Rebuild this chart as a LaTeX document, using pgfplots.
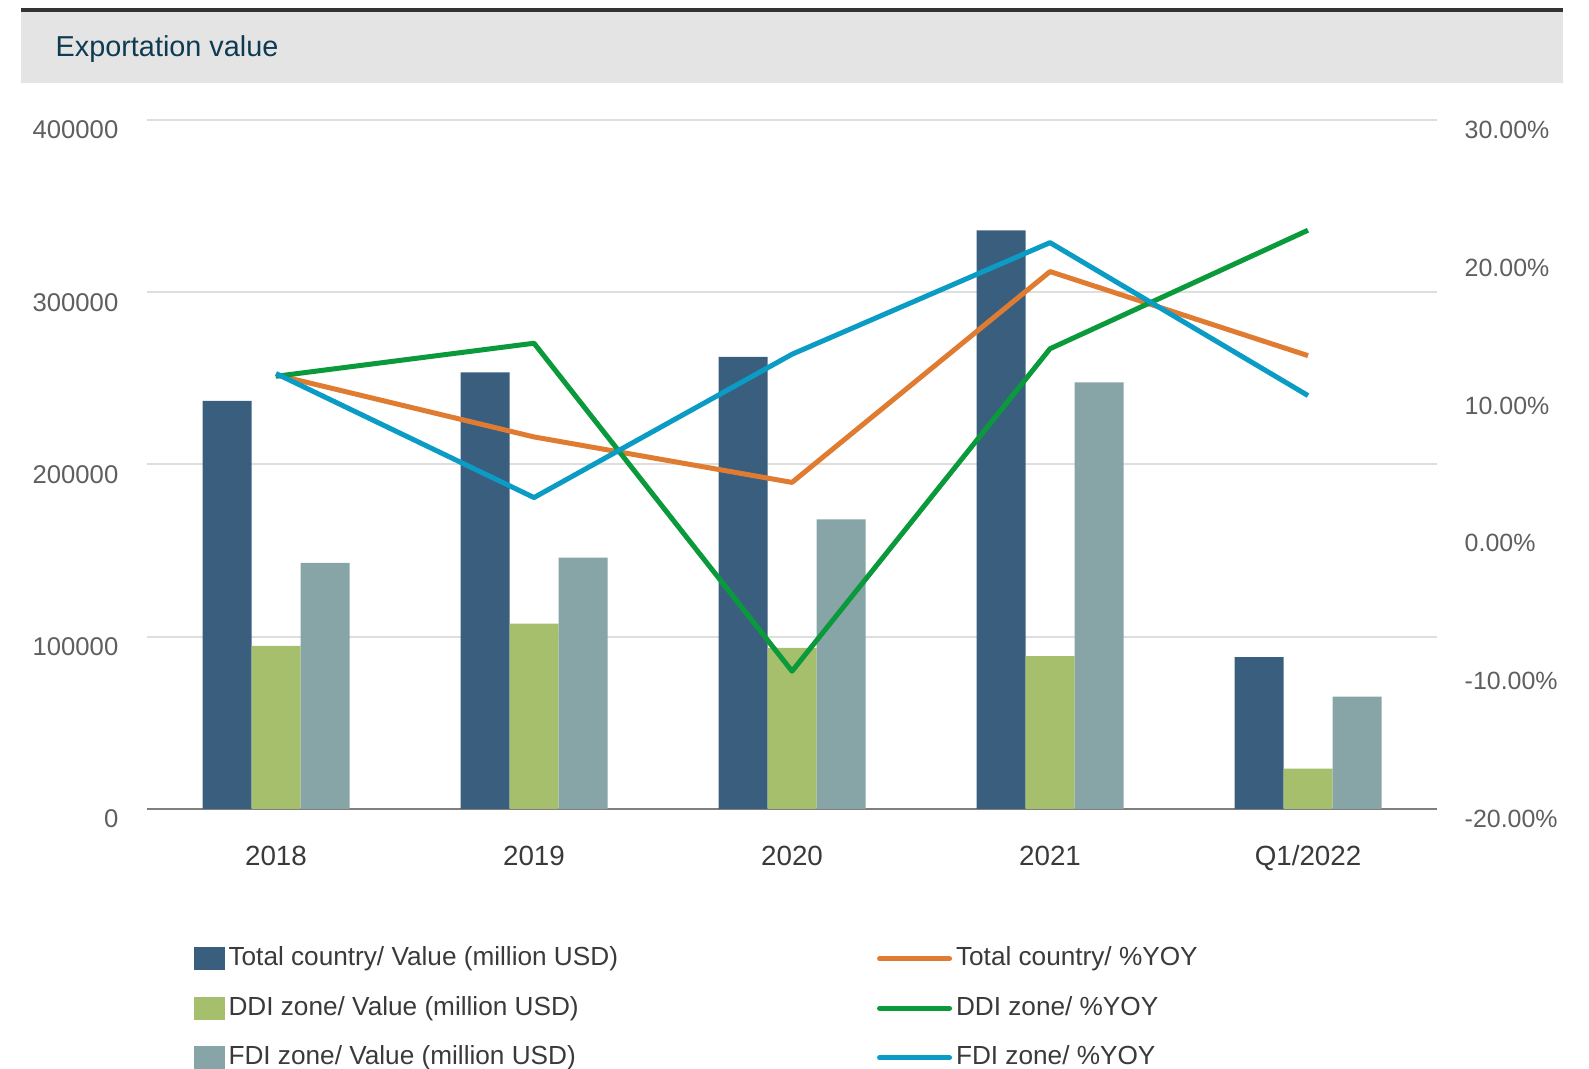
\documentclass[border=0pt]{standalone}
\usepackage{fontspec}
\setmainfont{Liberation Sans}
\usepackage{pgfplots}
\pgfplotsset{compat=1.18}
\usepackage{xcolor}

\definecolor{cTot}{HTML}{3A5E7E}
\definecolor{cDDI}{HTML}{A5BF6C}
\definecolor{cFDI}{HTML}{87A5A6}
\definecolor{lTot}{HTML}{E07C32}
\definecolor{lDDI}{HTML}{0B9A3B}
\definecolor{lFDI}{HTML}{0A9CC4}
\definecolor{hdr}{HTML}{E4E4E4}
\definecolor{ttl}{HTML}{0E3B52}
\definecolor{gridc}{HTML}{DEDEDE}
\definecolor{basec}{HTML}{7F7F7F}
\definecolor{tickc}{HTML}{5F5F5F}
\definecolor{txtc}{HTML}{3A3A3A}

\begin{document}
\begin{tikzpicture}
% page frame, 1 px = 0.01 cm
\useasboundingbox (0,0) rectangle (15.89,10.69);
\fill[hdr] (0.21,9.86) rectangle (15.63,10.59);
\draw[line width=0.04cm, draw=black!80] (0.21,10.59) -- (15.63,10.59);
\node[anchor=west, inner sep=0pt, text=ttl, font=\fontsize{8.2}{10}\selectfont] at (0.55,10.20) {Exportation value};

% bars, left axis
\begin{axis}[
    at={(1.47cm,2.60cm)}, anchor=south west,
    width=12.90cm, height=6.89cm, scale only axis,
    xmin=-0.5, xmax=4.5,
    ymin=0, ymax=400000,
    scaled y ticks=false,
    ybar=0pt, bar width=0.49cm,
    axis x line*=bottom, axis y line*=left,
    x axis line style={draw=basec, line width=0.02cm, -},
    y axis line style={draw=none},
    major tick length=0pt,
    xtick={0,1,2,3,4},
    xticklabels={2018,2019,2020,2021,Q1/2022},
    xticklabel style={inner sep=0pt, yshift=-0.36cm, text=txtc, font=\fontsize{7.9}{10}\selectfont},
    ytick={0,100000,200000,300000,400000},
    yticklabels={0,100000,200000,300000,400000},
    yticklabel style={inner sep=0pt, xshift=-0.28cm, yshift=-0.1cm, text=tickc, font=\fontsize{7.3}{10}\selectfont},
    ymajorgrids, grid style={draw=gridc, line width=0.02cm},
    clip=false,
]
\addplot[fill=cTot, draw=none] coordinates {(0,237000) (1,253500) (2,262400) (3,335900) (4,88200)};
\addplot[fill=cDDI, draw=none] coordinates {(0,94700) (1,107600) (2,93500) (3,88800) (4,23500)};
\addplot[fill=cFDI, draw=none] coordinates {(0,142900) (1,145900) (2,168200) (3,247600) (4,65300)};
\end{axis}

% lines, right axis
\begin{axis}[
    at={(1.47cm,2.60cm)}, anchor=south west,
    width=12.90cm, height=6.89cm, scale only axis,
    xmin=-0.5, xmax=4.5,
    ymin=-20, ymax=30,
    axis x line=none, axis y line*=right,
    y axis line style={draw=none},
    major tick length=0pt,
    ytick={-20,-10,0,10,20,30},
    yticklabels={-20.00\%,-10.00\%,0.00\%,10.00\%,20.00\%,30.00\%},
    yticklabel style={inner sep=0pt, xshift=0.27cm, yshift=-0.1cm, text=tickc, font=\fontsize{7.1}{10}\selectfont},
    clip=false,
    legend columns=2,
    legend cell align=left,
    legend style={at={(0.036,-0.196)}, anchor=north west, draw=none, fill=none,
        inner sep=0pt, row sep=0.215cm,
        font=\fontsize{7.45}{10}\selectfont, text=txtc,
        nodes={inner xsep=0.04cm, inner ysep=0pt, text height=0.21cm, text depth=0.07cm},
        /tikz/every even column/.append style={column sep=2.55cm}},
]
\addlegendimage{area legend, legend image code/.code={\fill[cTot] (0cm,-0.11cm) rectangle (0.29cm,0.11cm);}}
\addlegendentry{Total country/ Value (million USD)}
\addlegendimage{legend image code/.code={\draw[lTot, line width=0.05cm, line cap=round] (0cm,0cm) -- (0.70cm,0cm);}}
\addlegendentry{Total country/ \%YOY}
\addlegendimage{area legend, legend image code/.code={\fill[cDDI] (0cm,-0.11cm) rectangle (0.29cm,0.11cm);}}
\addlegendentry{DDI zone/ Value (million USD)}
\addlegendimage{legend image code/.code={\draw[lDDI, line width=0.05cm, line cap=round] (0cm,0cm) -- (0.70cm,0cm);}}
\addlegendentry{DDI zone/ \%YOY}
\addlegendimage{area legend, legend image code/.code={\fill[cFDI] (0cm,-0.11cm) rectangle (0.29cm,0.11cm);}}
\addlegendentry{FDI zone/ Value (million USD)}
\addlegendimage{legend image code/.code={\draw[lFDI, line width=0.05cm, line cap=round] (0cm,0cm) -- (0.70cm,0cm);}}
\addlegendentry{FDI zone/ \%YOY}

\addplot[forget plot, lTot, line width=0.05cm, line join=round] coordinates {(0,11.5) (1,7.0) (2,3.7) (3,19.0) (4,12.9)};
\addplot[forget plot, lDDI, line width=0.05cm, line join=round] coordinates {(0,11.4) (1,13.8) (2,-10.0) (3,13.4) (4,22.0)};
\addplot[forget plot, lFDI, line width=0.05cm, line join=round] coordinates {(0,11.6) (1,2.6) (2,13.0) (3,21.1) (4,10.0)};
\end{axis}
\end{tikzpicture}
\end{document}
